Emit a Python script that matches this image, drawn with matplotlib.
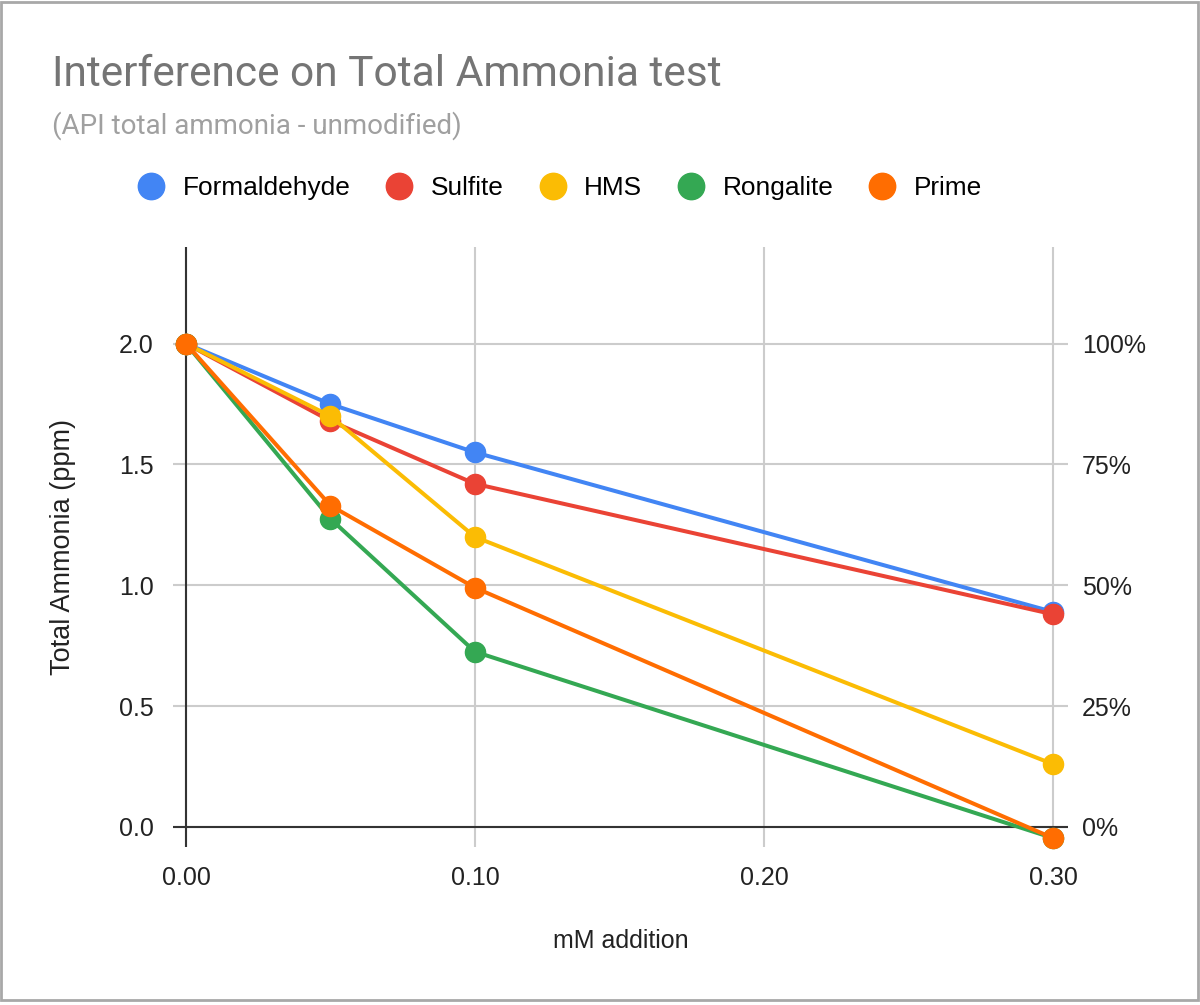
import matplotlib.pyplot as plt
from matplotlib.lines import Line2D
from matplotlib.patches import Rectangle
from matplotlib.ticker import FuncFormatter

plt.rcParams["font.family"] = ["Liberation Sans", "DejaVu Sans"]

# data
x_mm = [0.00, 0.05, 0.10, 0.30]
formaldehyde = [2.00, 1.75, 1.55, 0.89]
sulfite = [2.00, 1.68, 1.42, 0.88]
hms = [2.00, 1.70, 1.20, 0.26]
rongalite = [2.00, 1.275, 0.725, -0.046]
prime = [2.00, 1.33, 0.99, -0.046]

names = ["Formaldehyde", "Sulfite", "HMS", "Rongalite", "Prime"]
colors = ["#4285F4", "#EA4335", "#FBBC04", "#34A853", "#FF6D01"]
series = [formaldehyde, sulfite, hms, rongalite, prime]

y_ticks = [0.0, 0.5, 1.0, 1.5, 2.0]
x_ticks = [0.00, 0.10, 0.20, 0.30]
pct_ticks = [0, 25, 50, 75, 100]

fig = plt.figure(figsize=(12, 10.05), dpi=100)
ax = fig.add_axes([173 / 1200, 158 / 1005, 895 / 1200, 600 / 1005])

# gridlines
for yv in y_ticks:
    ax.axhline(yv, color="#cccccc", lw=1.5, zorder=0)
for xv in x_ticks:
    ax.axvline(xv, color="#cccccc", lw=1.5, zorder=0)
ax.axhline(0, color="#333333", lw=1.5, zorder=1)
ax.axvline(0, color="#333333", lw=1.5, zorder=1)

for name, vals, c in zip(names, series, colors):
    ax.plot(x_mm, vals, color=c, lw=2.9, marker="o", markersize=14.5,
            label=name, clip_on=False, zorder=3)

ax.set_xlim(-0.0045, 0.3052)
ax.set_ylim(-0.083, 2.4)
for s in ax.spines.values():
    s.set_visible(False)

ax.set_xticks(x_ticks)
ax.set_xticklabels([f"{v:.2f}" for v in x_ticks])
ax.set_yticks(y_ticks)
ax.set_yticklabels([f"{v:.1f}" for v in y_ticks])
ax.tick_params(axis="both", length=0, labelsize=18, colors="#222222")
ax.tick_params(axis="x", pad=14)
ax.tick_params(axis="y", pad=14)

ax.set_xlabel("mM addition", fontsize=18, color="#222222", labelpad=28)
ax.set_ylabel("Total Ammonia (ppm)", fontsize=19.5, color="#222222", labelpad=31)

# right axis (percent)
ax2 = ax.twinx()
ax2.set_ylim(-0.083 / 2.0 * 100, 120)
ax2.set_yticks(pct_ticks)
ax2.yaxis.set_major_formatter(FuncFormatter(lambda v, pos: f"{v:.0f}%"))
ax2.tick_params(axis="y", length=0, labelsize=18, colors="#222222", pad=10)
for s in ax2.spines.values():
    s.set_visible(False)

# title and subtitle
fig.text(52 / 1200, 1 - 75 / 1005, "Interference on Total Ammonia test",
         fontsize=30.6, color="#757575", family="Roboto", va="center", ha="left")
fig.text(52 / 1200, 1 - 126 / 1005, "(API total ammonia - unmodified)",
         fontsize=20, color="#a0a0a0", family="Roboto", va="center", ha="left")

# legend
handles = [Line2D([], [], linestyle="none", marker="o", markersize=19,
                  color=c) for c in colors]
fig.legend(handles, names, loc="center left", ncol=5,
           bbox_to_anchor=(138 / 1200, 1 - 188 / 1005), frameon=False,
           fontsize=18.9, handlelength=1.0, handletextpad=0.7,
           columnspacing=1.36, borderpad=0, borderaxespad=0)

# screenshot frame
fig.patches.append(Rectangle((0.001, 0.005), 0.997, 0.993, transform=fig.transFigure,
                             fill=False, edgecolor="#a8a8a8", lw=2))

plt.savefig("out.png", dpi=100)
